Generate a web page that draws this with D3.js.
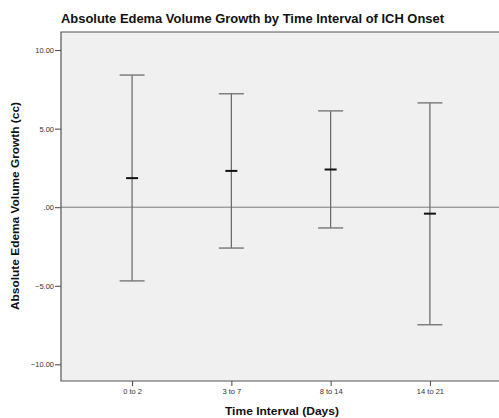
<!DOCTYPE html>
<html><head><meta charset="utf-8">
<script src="https://cdn.jsdelivr.net/npm/d3@7"></script>
<style>body{margin:0;background:#fff}svg{display:block}</style>
</head><body>
<script>
const categories = ["0 to 2", "3 to 7", "8 to 14", "14 to 21"];
const means = [1.85, 2.31, 2.40, -0.41];
const upper = [8.41, 7.22, 6.13, 6.64];
const lower = [-4.69, -2.60, -1.32, -7.48];
const yTicks = [-10, -5, 0, 5, 10];

const W = 499, H = 418;
const L = 61, R = 501, T = 32, B = 381;
const svg = d3.select("body").append("svg").attr("width", W).attr("height", H);
const font = "Liberation Sans, Arial, sans-serif";

const x = d3.scalePoint().domain(categories).range([L, R]).padding(0.716);
const y = d3.scaleLinear().domain([-11.06, 11.15]).range([B, T]);

svg.append("rect").attr("x", L).attr("y", T).attr("width", R - L).attr("height", B - T)
  .attr("fill", "#f0f0f0");

// zero reference line
svg.append("line").attr("x1", L).attr("x2", R).attr("y1", y(0)).attr("y2", y(0))
  .attr("stroke", "#7a7a7a").attr("stroke-width", 1);

const fmt = v => { const s = d3.format(".2f")(v); return s.replace(/^(-?)0\./, "$1."); };

const yAxis = svg.append("g").attr("transform", `translate(${L},0)`)
  .call(d3.axisLeft(y).tickValues(yTicks).tickFormat(fmt).tickSize(6).tickPadding(1).tickSizeOuter(0));
const xAxis = svg.append("g").attr("transform", `translate(0,${B})`)
  .call(d3.axisBottom(x).tickSize(5).tickPadding(3).tickSizeOuter(0));
[yAxis, xAxis].forEach(a => {
  a.select(".domain").remove();
  a.selectAll("line").attr("stroke", "#444");
  a.selectAll("text").attr("font-family", font).attr("font-size", 7.5).attr("fill", "#333");
});

// borders (top, left, bottom)
svg.append("path").attr("d", `M${R},${T}H${L}V${B}H${R}`).attr("fill", "none")
  .attr("stroke", "#555").attr("stroke-width", 1.2);

const g = svg.append("g");
categories.forEach((c, i) => {
  const cx = x(c);
  g.append("line").attr("x1", cx).attr("x2", cx).attr("y1", y(upper[i])).attr("y2", y(lower[i]))
    .attr("stroke", "#666").attr("stroke-width", 1.2);
  [upper[i], lower[i]].forEach(v => {
    g.append("line").attr("x1", cx - 12.5).attr("x2", cx + 12.5).attr("y1", y(v)).attr("y2", y(v))
      .attr("stroke", "#777").attr("stroke-width", 1.4);
  });
  g.append("line").attr("x1", cx - 6).attr("x2", cx + 6).attr("y1", y(means[i])).attr("y2", y(means[i]))
    .attr("stroke", "#111").attr("stroke-width", 2);
});

svg.append("text").attr("x", L).attr("y", 23).attr("font-family", font).attr("font-weight", "bold")
  .attr("font-size", 12).attr("fill", "#111").attr("textLength", 383).attr("lengthAdjust", "spacingAndGlyphs")
  .text("Absolute Edema Volume Growth by Time Interval of ICH Onset");
svg.append("text").attr("x", 282).attr("y", 415).attr("text-anchor", "middle")
  .attr("font-family", font).attr("font-weight", "bold").attr("font-size", 11).attr("fill", "#111")
  .attr("textLength", 114).attr("lengthAdjust", "spacingAndGlyphs")
  .text("Time Interval (Days)");
svg.append("text").attr("transform", `translate(19,206) rotate(-90)`).attr("text-anchor", "middle")
  .attr("font-family", font).attr("font-weight", "bold").attr("font-size", 11).attr("fill", "#111")
  .attr("textLength", 208).attr("lengthAdjust", "spacingAndGlyphs")
  .text("Absolute Edema Volume Growth (cc)");
</script>
</body></html>
